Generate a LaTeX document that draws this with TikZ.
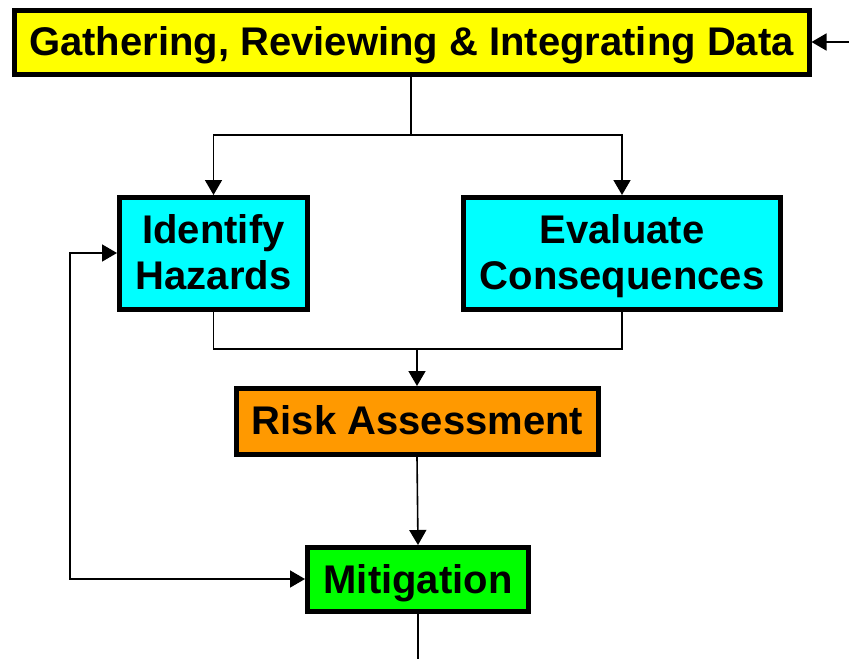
\documentclass[tikz,border=0pt]{standalone}
\usepackage{fontspec}
\setmainfont{Liberation Sans}
\usetikzlibrary{arrows.meta}
\definecolor{boxyellow}{RGB}{255,255,0}
\definecolor{boxcyan}{RGB}{0,255,255}
\definecolor{boxorange}{RGB}{255,153,0}
\definecolor{boxgreen}{RGB}{0,255,0}
\begin{document}
\begin{tikzpicture}[x=1pt,y=-1pt,
  box/.style={draw=black,line width=5pt,inner sep=0pt,align=center,
    text depth=2pt,
    font=\fontsize{40}{46}\selectfont\bfseries},
  conn/.style={line width=1.6pt},
  tip/.tip={Triangle[length=15pt,width=17pt]},
  arr/.style={conn,-tip},
  darr/.style={conn,tip-tip}]
\useasboundingbox (0,0) rectangle (849,659);
\node[box,fill=boxyellow,minimum width=795pt,minimum height=64pt] (data) at (411.5,42) {Gathering, Reviewing \& Integrating Data};
\node[box,fill=boxcyan,minimum width=188pt,minimum height=112pt] (haz) at (213.5,253.5) {Identify\\Hazards};
\node[box,fill=boxcyan,minimum width=317pt,minimum height=112pt] (cons) at (622,253.5) {Evaluate\\Consequences};
\node[box,fill=boxorange,minimum width=362pt,minimum height=66pt] (risk) at (417.5,421.5) {Risk Assessment};
\node[box,fill=boxgreen,minimum width=221pt,minimum height=64pt] (mit) at (418,579.5) {Mitigation};
\coordinate (in) at (849,42);
\coordinate (split) at (411,135);
\coordinate (join) at (417,349);
\coordinate (loop) at (70,579);
\coordinate (out) at (418,659);
\draw[arr] (in) -- (data.east);
\draw[conn] (data.south -| split) -- (split);
\draw[arr] (split) -| (haz.north);
\draw[arr] (split) -| (cons.north);
\draw[conn] (haz.south) |- (join) -| (cons.south);
\draw[arr] (join) -- (risk.north -| join);
\draw[arr] (risk.south -| join) -- (mit.north);
\draw[darr] (mit.west |- loop) -- (loop) -- (70,253) -- (haz.west |- 0,253);
\draw[conn] (mit.south) -- (out);
\end{tikzpicture}
\end{document}
